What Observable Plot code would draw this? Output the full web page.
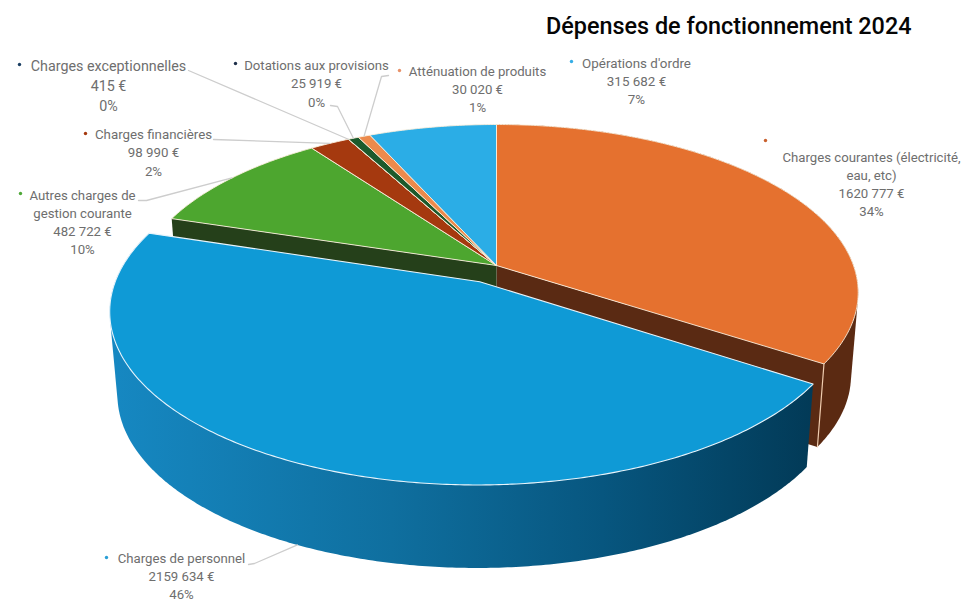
<!DOCTYPE html>
<html lang="fr">
<head>
<meta charset="utf-8">
<script src="https://cdn.jsdelivr.net/npm/d3@7"></script>
<script src="https://cdn.jsdelivr.net/npm/@observablehq/plot@0.6"></script>
<style>
html,body{margin:0;padding:0;background:#fff;}
#title{height:40px;box-sizing:border-box;padding:13px 0 0 546px;font:500 23.4px/26px Roboto,sans-serif;color:#050505;white-space:nowrap;}
svg{display:block;}
</style>
</head>
<body>
<div id="title">Dépenses de fonctionnement 2024</div>
<div id="chart"></div>
<script>
// ---- data (clockwise from 12 o'clock)
const categories = ["Charges courantes (électricité, eau, etc)", "Charges de personnel", "Autres charges de gestion courante", "Charges financières", "Charges exceptionnelles", "Dotations aux provisions", "Atténuation de produits", "Opérations d'ordre"];
const values = [1620777, 2159634, 482722, 98990, 415, 25919, 30020, 315682];
const percents = [34, 46, 10, 2, 0, 0, 1, 7];
const nameLines = [["Charges courantes (électricité,", "eau, etc)"], ["Charges de personnel"], ["Autres charges de", "gestion courante"], ["Charges financières"], ["Charges exceptionnelles"], ["Dotations aux provisions"], ["Atténuation de produits"], ["Opérations d'ordre"]];

// ---- styles
const sliceColors = ["#e5712f", "#0f9ad6", "#4da62f", "#a5390f", "#1b4b72", "#1c5a2c", "#ec8a4c", "#2badE6"];
const bulletColors = ["#c9602d", "#2a9fd6", "#4fa838", "#a5390f", "#1b3f63", "#1e2f4a", "#e8926a", "#35ade6"];

// ---- label layout: centre x, y of first line, line step, font size, bullet x, y, leader elbow
const labelX = [871, 181, 82, 153, 108, 316, 477, 636];
const labelY = [157, 558, 195, 134, 66, 65, 71, 63];
const labelStep = [18, 18, 18, 18.5, 20, 18.5, 18, 18];
const labelSize = [13.2, 13.2, 13.2, 13.3, 14.3, 13.2, 13.2, 13.4];
const bulletX = [765, 106, 20, 85, 19, 235, 399, 571];
const bulletY = [140, 557, 193, 133, 64, 63, 70, 61];
const leaderStart = [null, [248, 564], [138, 200], [213, 139], [188, 70], [330, 105], [388, 75], null];
const leaderElbow = [null, [254, 563], [146, 200], [213, 139], [188, 70], [337, 106], [381, 76], null];

// ---- pie camera
const cx = 496, cy = 265, a = 357, b = 163.7, k = 0.161, depth = 83, baseScale = 0.98;
const explodeIndex = 1, explode = 0.108, explodeRadius = 1.005;

const pie = d3.pie().sort(null).value(d => d)(values);
function project(theta, r, dX = 0, dY = 0, low = false) {
  const X = r * Math.sin(theta) + dX, Y = r * Math.cos(theta) + dY, w = 1 + k * Y;
  const x = a * X / w, y = b * Y / w;
  return low ? {x: cx + x * baseScale, y: cy - y + depth} : {x: cx + x, y: cy - y};
}
function offset(i) {
  if (i !== explodeIndex) return [0, 0];
  const m = (pie[i].startAngle + pie[i].endAngle) / 2;
  return [explode * Math.sin(m), explode * Math.cos(m)];
}
const radius = i => i === explodeIndex ? explodeRadius : 1;
function arc(i, low = false) {
  const {startAngle: s, endAngle: e} = pie[i], [dX, dY] = offset(i);
  const n = Math.max(2, Math.ceil((e - s) / 0.01));
  return d3.range(n + 1).map(j => project(s + (e - s) * j / n, radius(i), dX, dY, low));
}
function face(i) {
  const [dX, dY] = offset(i), apex = project(0, 0, dX, dY);
  return [apex, ...arc(i), apex].map(p => ({...p, name: categories[i]}));
}
// silhouette of the outer wall: hull of the top and bottom rims (the part above is hidden by the top face)
function rim(i) {
  const hull = d3.polygonHull([...arc(i), ...arc(i, true)].map(p => [p.x, p.y]));
  return [...hull, hull[0]].map(([x, y]) => ({x, y}));
}
function radialWall(theta) {
  const p = [project(0, 0), project(theta, 1), project(theta, 1, 0, 0, true), project(0, 0, 0, 0, true)];
  return [...p, p[0]];
}

const faces = pie.flatMap((_, i) => i === explodeIndex ? [] : face(i));
const orangeEnd = pie[0].endAngle, greenStart = pie[2].startAngle;

// ---- labels
const fmt = v => String(v).replace(/(\d{3})$/, " $1").trim() + " €";
const rows = categories.flatMap((_, i) => {
  const lines = [...nameLines[i], fmt(values[i]), percents[i] + "%"];
  return lines.map((text, j) => ({text, x: labelX[i], y: labelY[i] + j * labelStep[i], size: labelSize[i]}));
});
const leaders = categories.flatMap((_, i) => {
  if (!leaderStart[i]) return [];
  const m = (pie[i].startAngle + pie[i].endAngle) / 2, [dX, dY] = offset(i);
  const end = project(m, radius(i), dX, dY, i === explodeIndex);
  return [{x: leaderStart[i][0], y: leaderStart[i][1], i}, {x: leaderElbow[i][0], y: leaderElbow[i][1], i}, {x: end.x, y: end.y, i}];
});
const bullets = categories.map((name, i) => ({x: bulletX[i], y: bulletY[i], c: bulletColors[i]}));

const poly = (pts, fill, extra = {}) => Plot.line(pts, {x: "x", y: "y", fill, stroke: "none", ...extra});

const chart = Plot.plot({
  width: 974, height: 561,
  marginTop: 0, marginRight: 0, marginBottom: 0, marginLeft: 0,
  style: {background: "#fff"},
  x: {domain: [0, 974], range: [0, 974], axis: null},
  y: {domain: [40, 601], range: [0, 561], axis: null},
  color: {domain: categories, range: sliceColors},
  marks: [
    poly(rim(0), "#5b2a12"),
    poly(radialWall(orangeEnd), "#5a2a13"),
    Plot.line([project(orangeEnd, 1), project(orangeEnd, 1, 0, 0, true)], {x: "x", y: "y", stroke: "#f0cdb0", strokeWidth: 1.2}),
    poly(radialWall(greenStart), "#25401a"),
    Plot.line(faces, {x: "x", y: "y", z: "name", fill: "name", stroke: "#fbeedd", strokeWidth: 0.9, strokeLinejoin: "round"}),
    poly(rim(explodeIndex), "url(#blueRim)"),
    Plot.line(face(explodeIndex), {x: "x", y: "y", fill: "name", stroke: "#e8f4fb", strokeWidth: 1.1, strokeLinejoin: "round"}),
    Plot.line(leaders, {x: "x", y: "y", z: "i", stroke: "#cdcdcd", strokeWidth: 1.3}),
    Plot.dot(bullets, {x: "x", y: "y", r: 1.7, fill: "c", stroke: "none"}),
    Plot.text(rows, {x: "x", y: "y", text: "text", fontSize: "size", fontFamily: "Roboto, sans-serif", fill: "#6e6e6e"})
  ]
});
const defs = d3.select(chart).insert("defs", ":first-child");
const grad = defs.append("linearGradient").attr("id", "blueRim").attr("x1", 0).attr("x2", 1).attr("y1", 0).attr("y2", 0);
[[0, "#1688c2"], [0.4, "#0f6f9f"], [0.7, "#07567f"], [1, "#023a57"]].forEach(([o, c]) => grad.append("stop").attr("offset", o).attr("stop-color", c));
document.getElementById("chart").append(chart);
</script>
</body>
</html>
